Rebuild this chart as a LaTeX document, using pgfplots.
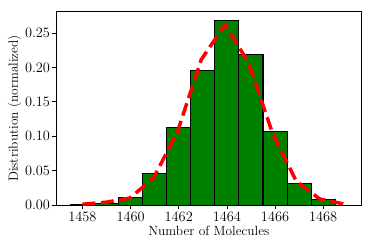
\documentclass[border=0pt]{standalone}
\usepackage{pgfplots}
\pgfplotsset{compat=1.18}
\definecolor{mplgreen}{RGB}{0,128,0}
\begin{document}
\begin{tikzpicture}
\useasboundingbox (-56bp,-43.7bp) rectangle (318bp,205.3bp);
\begin{axis}[
  at={(0,0)}, anchor=south west,
  scale only axis,
  width=305.7bp, height=193.6bp,
  xmin=1456.9, xmax=1469.6,
  ymin=0, ymax=0.2808,
  xtick={1458,1460,...,1468},
  ytick={0,0.05,...,0.25},
  tick align=outside,
  tick pos=left,
  major tick length=3.5bp,
  axis line style={line width=0.8bp},
  every tick/.style={line width=0.8bp, black},
  /pgf/number format/1000 sep={},
  yticklabel style={/pgf/number format/fixed, /pgf/number format/precision=2, /pgf/number format/fixed zerofill, xshift=1bp},
  tick label style={font=\fontsize{13.4}{16}\selectfont},
  label style={font=\fontsize{13.4}{16}\selectfont},
  xlabel={Number of Molecules},
  ylabel={Distribution (normalized)},
  xlabel style={yshift=2bp},
  ylabel style={yshift=-3bp},
  scaled y ticks=false,
]
\addplot[ybar, bar width=1, bar shift=0, fill=mplgreen, draw=black, line width=1.1bp] coordinates {
(1458,0.0015) (1459,0.003) (1460,0.0107) (1461,0.0455) (1462,0.113) (1463,0.195)
(1464,0.2674) (1465,0.219) (1466,0.107) (1467,0.0315) (1468,0.0087)
};
\addplot[red, line width=3.5bp, dash pattern=on 12.9bp off 5.6bp, line join=round] coordinates {
(1458,0.0015) (1458.99,0.0045) (1459.97,0.0105) (1460.96,0.040) (1461.95,0.107)
(1462.93,0.211) (1463.92,0.262) (1464.90,0.207) (1465.89,0.105) (1466.88,0.035)
(1467.86,0.009) (1468.85,0.002)
};
\end{axis}
\end{tikzpicture}
\end{document}
